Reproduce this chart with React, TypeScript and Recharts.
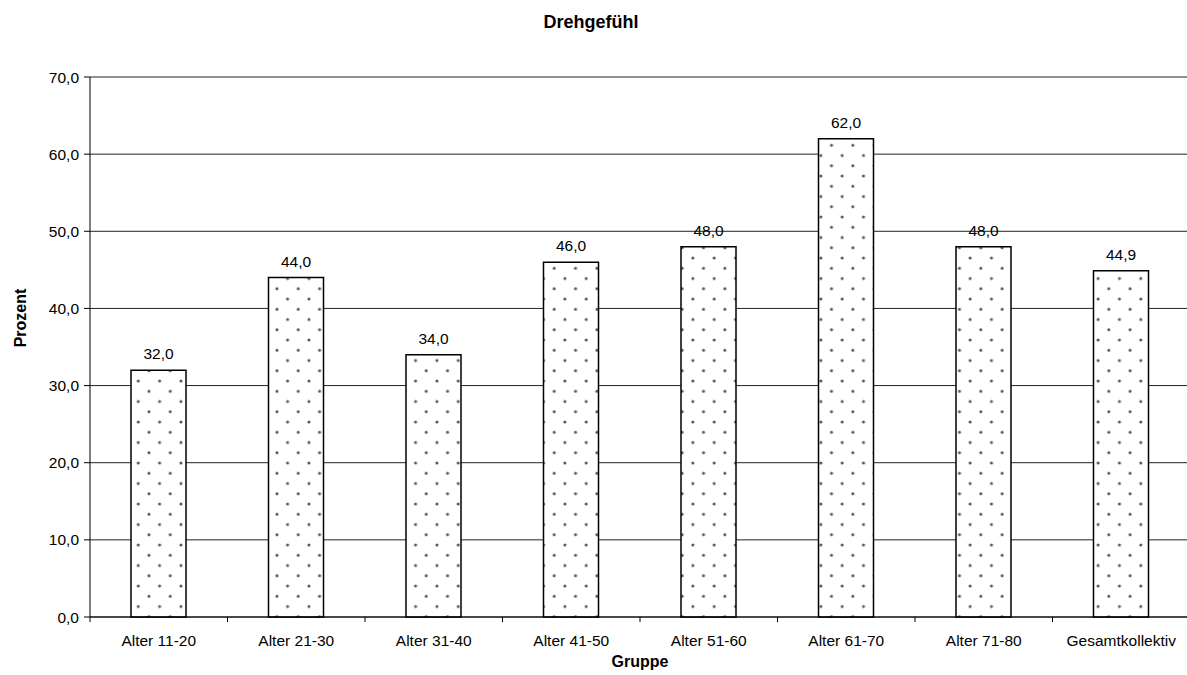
import React from 'react';
import { BarChart, Bar, XAxis, YAxis, CartesianGrid, LabelList } from 'recharts';

const groups = [
  'Alter 11-20',
  'Alter 21-30',
  'Alter 31-40',
  'Alter 41-50',
  'Alter 51-60',
  'Alter 61-70',
  'Alter 71-80',
  'Gesamtkollektiv',
];
const percent = [32.0, 44.0, 34.0, 46.0, 48.0, 62.0, 48.0, 44.9];
const yTicks = [0, 10, 20, 30, 40, 50, 60, 70];

const data = groups.map((g, i) => ({ group: g, value: percent[i] }));

const W = 1190;
const H = 675;
const PLOT_LEFT = 90;
const PLOT_TOP = 77;
const AXIS_H = 58;
const band = (W - PLOT_LEFT) / groups.length;

const font = '"Liberation Sans", Arial, sans-serif';
const fmt = (v: number) => v.toFixed(1).replace('.', ',');

// category ticks sit on the boundaries between groups, labels in the middle
const GroupTick = (props: any) => {
  const { x, y, payload } = props;
  const left = x - band / 2;
  return (
    <g>
      <line x1={left} y1={y} x2={left} y2={y + 5} stroke="#000" strokeWidth={1} />
      <text x={x} y={y + 28.5} textAnchor="middle" fontSize={15.5} fontFamily={font} fill="#000">
        {payload.value}
      </text>
    </g>
  );
};

export default function App() {
  return (
    <div
      style={{
        position: 'absolute',
        left: 0,
        top: 0,
        width: 1187,
        height: H,
        overflow: 'hidden',
        background: '#fff',
        fontFamily: font,
      }}
    >
      <div
        style={{
          position: 'absolute',
          left: 0,
          width: 1182,
          top: 11,
          textAlign: 'center',
          fontWeight: 'bold',
          fontSize: 18,
          lineHeight: '22px',
        }}
      >
        Drehgefühl
      </div>
      <div
        style={{
          position: 'absolute',
          left: 21,
          top: 318,
          transform: 'translate(-50%, -50%) rotate(-90deg)',
          fontWeight: 'bold',
          fontSize: 16,
          whiteSpace: 'nowrap',
        }}
      >
        Prozent
      </div>
      <div
        style={{
          position: 'absolute',
          left: 640,
          top: 662,
          transform: 'translate(-50%, -50%)',
          fontWeight: 'bold',
          fontSize: 16,
          whiteSpace: 'nowrap',
        }}
      >
        Gruppe
      </div>
      <BarChart
        width={W}
        height={H}
        data={data}
        margin={{ top: PLOT_TOP, right: 0, left: 0, bottom: 0 }}
        barSize={55}
        style={{ position: 'absolute', left: 0, top: 0 }}
      >
        <defs>
          <pattern id="dots" patternUnits="userSpaceOnUse" x={10.3} y={12} width={21.33} height={20.5}>
            <rect width={21.33} height={20.5} fill="#fff" />
            <circle cx={0} cy={0} r={1.5} fill="#555" />
            <circle cx={21.33} cy={0} r={1.5} fill="#555" />
            <circle cx={0} cy={20.5} r={1.5} fill="#555" />
            <circle cx={21.33} cy={20.5} r={1.5} fill="#555" />
            <circle cx={10.67} cy={10.25} r={1.5} fill="#555" />
          </pattern>
        </defs>
        <CartesianGrid vertical={false} stroke="#222" strokeWidth={1} />
        <XAxis
          dataKey="group"
          height={AXIS_H}
          axisLine={{ stroke: '#000' }}
          tickLine={false}
          tickSize={0}
          tickMargin={0}
          tick={<GroupTick />}
          interval={0}
        />
        <YAxis
          width={PLOT_LEFT}
          domain={[0, 70]}
          ticks={yTicks}
          tickFormatter={fmt}
          axisLine={{ stroke: '#000' }}
          tickLine={{ stroke: '#000' }}
          tickSize={6}
          tickMargin={5}
          tick={{ fill: '#000', fontSize: 15.5, fontFamily: font }}
        />
        <Bar dataKey="value" fill="url(#dots)" stroke="#000" strokeWidth={1.5} isAnimationActive={false}>
          <LabelList
            dataKey="value"
            position="top"
            offset={11}
            formatter={(v: any) => fmt(Number(v))}
            style={{ fill: '#000', fontSize: 15.5, fontFamily: font }}
          />
        </Bar>
      </BarChart>
    </div>
  );
}
